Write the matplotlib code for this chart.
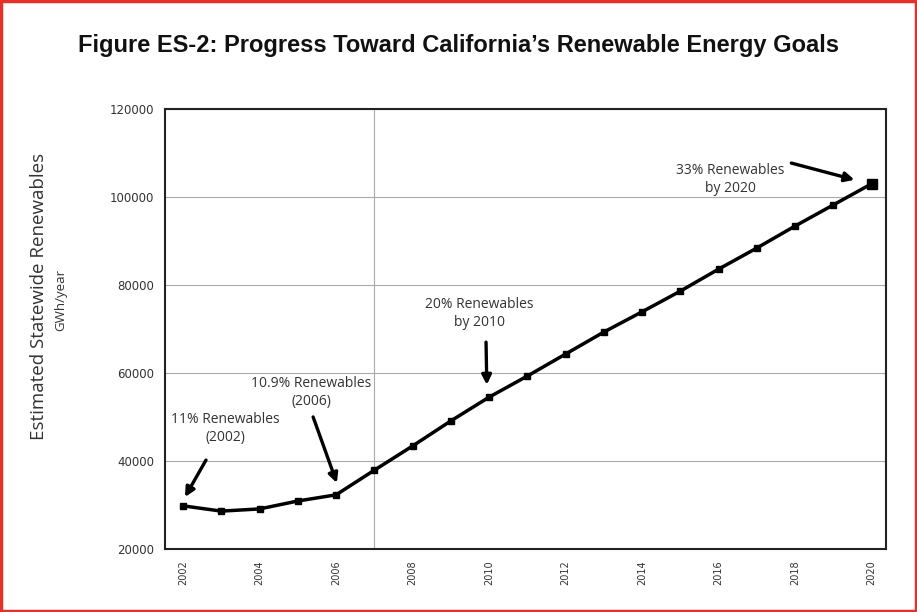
import matplotlib.pyplot as plt
from matplotlib.patches import Rectangle

# Data
years = list(range(2002, 2021))
gwh = [29800, 28600, 29100, 30900, 32300, 37900, 43400, 49100, 54500, 59300,
       64300, 69300, 73900, 78600, 83600, 88400, 93400, 98200, 103000]
x_ticks = list(range(2002, 2021, 2))
y_ticks = [20000, 40000, 60000, 80000, 100000, 120000]

notes = [
    # text, text pos, arrow start, arrow tip
    ("11% Renewables\n(2002)", (2003.1, 47300), (2002.6, 40200), (2002.05, 31800)),
    ("10.9% Renewables\n(2006)", (2005.35, 55500), (2005.4, 50000), (2006.02, 35000)),
    ("20% Renewables\nby 2010", (2009.75, 73500), (2009.92, 67000), (2009.94, 57300)),
    ("33% Renewables\nby 2020", (2016.3, 104000), (2017.9, 107700), (2019.55, 103900)),
]

fig = plt.figure(figsize=(9.17, 6.12), dpi=100)
fig.patches.append(Rectangle((0.001, 0.001), 0.998, 0.997, transform=fig.transFigure,
                             fill=False, edgecolor='#e8302a', linewidth=2.5))
ax = fig.add_axes([0.18, 0.103, 0.786, 0.719])

ax.plot(years, gwh, color='black', linewidth=2.5, marker='s', markersize=4, zorder=3)
ax.plot(years[-1], gwh[-1], color='black', marker='s', markersize=7, zorder=4)

ax.set_xlim(2001.53, 2020.37)
ax.set_ylim(20000, 120000)
ax.set_xticks(x_ticks)
ax.set_yticks(y_ticks)
ax.set_xticklabels([str(y) for y in x_ticks], rotation=90, fontsize=7, color='#333333')
ax.set_yticklabels([str(v) for v in y_ticks], fontsize=8.5, color='#333333')
ax.tick_params(length=0, pad=8)
ax.yaxis.grid(True, color='#aaaaaa', linewidth=0.8)
ax.axvline(2007, color='#aaaaaa', linewidth=0.8)
for s in ax.spines.values():
    s.set_linewidth(1.5)
    s.set_color('#222222')

for label, tpos, start, tip in notes:
    ax.text(tpos[0], tpos[1], label, ha='center', va='center', fontsize=10,
            color='#333333', family='Open Sans', linespacing=1.3)
    ax.annotate('', xy=tip, xytext=start,
                arrowprops=dict(arrowstyle='-|>', color='black', lw=2.4,
                                mutation_scale=14, shrinkA=0, shrinkB=0))

fig.text(0.5, 0.926, "Figure ES-2: Progress Toward California\u2019s Renewable Energy Goals",
         ha='center', va='center', fontsize=17, fontweight='bold',
         family='Liberation Sans', color='#111111')
fig.text(0.042, 0.516, "Estimated Statewide Renewables", rotation=90, ha='center',
         va='center', fontsize=13.5, family='Open Sans', color='#333333')
fig.text(0.066, 0.51, "GWh/year", rotation=90, ha='center', va='center',
         fontsize=9.5, family='Open Sans', color='#333333')

fig.savefig('out.png', dpi=100)
